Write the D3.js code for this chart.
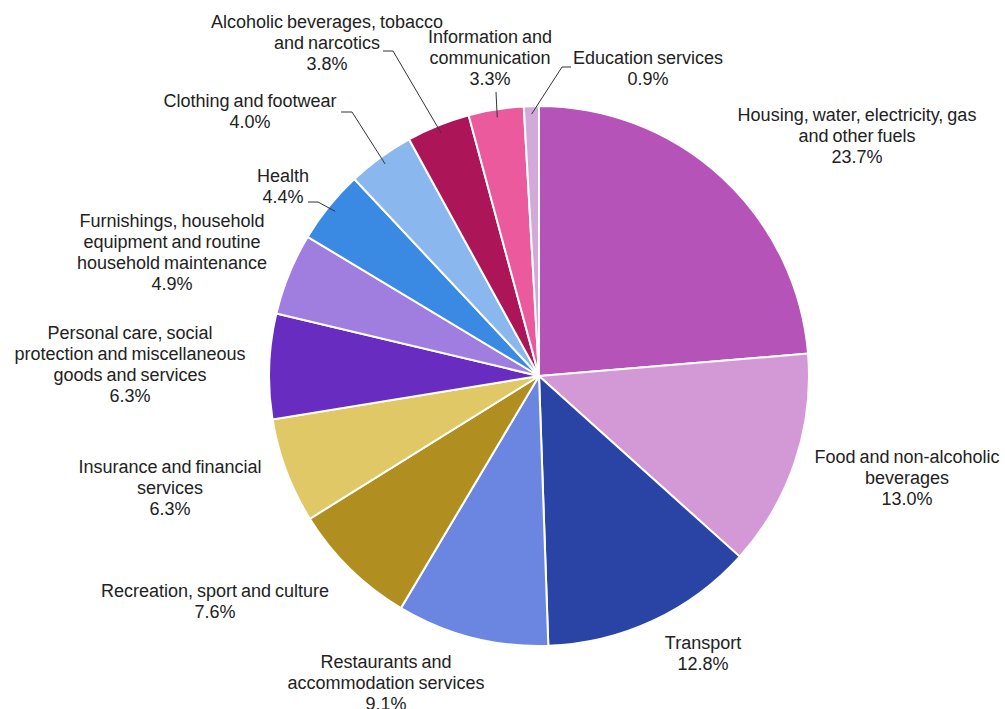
<!DOCTYPE html>
<html>
<head>
<meta charset="utf-8">
<script src="https://cdn.jsdelivr.net/npm/d3@7"></script>
<style>
  body { margin: 0; background: #fff; }
  #chart { width: 1005px; height: 709px; }
  .lbl { font-family: "Liberation Sans", Arial, sans-serif; font-size: 18px; fill: #222; word-spacing: -1px; }
</style>
</head>
<body>
<div id="chart"></div>
<script>
// data, clockwise from 12 o'clock
const categories = [
    "Housing, water, electricity, gas and other fuels",
    "Food and non-alcoholic beverages",
    "Transport",
    "Restaurants and accommodation services",
    "Recreation, sport and culture",
    "Insurance and financial services",
    "Personal care, social protection and miscellaneous goods and services",
    "Furnishings, household equipment and routine household maintenance",
    "Health",
    "Clothing and footwear",
    "Alcoholic beverages, tobacco and narcotics",
    "Information and communication",
    "Education services"
];
const shares = [23.7, 13.0, 12.8, 9.1, 7.6, 6.3, 6.3, 4.9, 4.4, 4.0, 3.8, 3.3, 0.9];
const labelLines = [
    ["Housing, water, electricity, gas", "and other fuels"],
    ["Food and non-alcoholic", "beverages"],
    ["Transport"],
    ["Restaurants and", "accommodation services"],
    ["Recreation, sport and culture"],
    ["Insurance and financial", "services"],
    ["Personal care, social", "protection and miscellaneous", "goods and services"],
    ["Furnishings, household", "equipment and routine", "household maintenance"],
    ["Health"],
    ["Clothing and footwear"],
    ["Alcoholic beverages, tobacco", "and narcotics"],
    ["Information and", "communication"],
    ["Education services"]
];
const colors = ["#b553b8", "#d399d6", "#2a44a6", "#6b86e0", "#b08f20", "#e0c866",
    "#682cc0", "#a07ee0", "#3a8ae3", "#8ab8ee", "#ac1658", "#ea5a9c", "#d3a9d9"];

// label placement (centre x, first line y) and leader knee points
const labelPos = [
    [857, 115], [907, 457], [703, 643], [386, 662], [215, 591], [170, 467],
    [130, 333], [172, 221], [283, 176], [250, 101], [327, 22], [490, 37], [648, 58]
];
const leaders = {
    8: [[308, 202], [318, 202]],
    9: [[341, 112], [352, 112]],
    10: [[383, 51], [393, 51]],
    11: [[496, 92], [496, 92]],
    12: [[571, 67], [562, 67]]
};

const W = 1005, H = 709;
const cx = 539, cy = 376, radius = 270;
const lineH = 21;

const svg = d3.select("#chart").append("svg")
    .attr("width", W)
    .attr("height", H);

const g = svg.append("g").attr("transform", `translate(${cx}, ${cy})`);

const pie = d3.pie().sort(null).value(d => d)(shares);
const arc = d3.arc().innerRadius(0).outerRadius(radius);

g.selectAll(".slice")
    .data(pie)
    .enter()
    .append("path")
    .attr("class", "slice")
    .attr("d", arc)
    .attr("fill", (d, i) => colors[i])
    .attr("stroke", "#fff")
    .attr("stroke-width", 2);

// leader lines
Object.keys(leaders).forEach(k => {
    const i = +k;
    const d = pie[i];
    const mid = (d.startAngle + d.endAngle) / 2;
    const r = radius - 8;
    const end = [cx + r * Math.sin(mid), cy - r * Math.cos(mid)];
    const pts = leaders[k].concat([end]);
    svg.append("path")
        .attr("d", d3.line()(pts))
        .attr("fill", "none")
        .attr("stroke", "#333")
        .attr("stroke-width", 1);
});

// labels
labelLines.forEach((lines, i) => {
    const all = lines.concat([shares[i].toFixed(1) + "%"]);
    const t = svg.append("text")
        .attr("class", "lbl")
        .attr("text-anchor", "middle")
        .attr("x", labelPos[i][0])
        .attr("y", labelPos[i][1]);
    all.forEach((s, j) => {
        t.append("tspan")
            .attr("x", labelPos[i][0])
            .attr("y", labelPos[i][1] + j * lineH)
            .attr("dy", "0.35em")
            .text(s);
    });
});
</script>
</body>
</html>
